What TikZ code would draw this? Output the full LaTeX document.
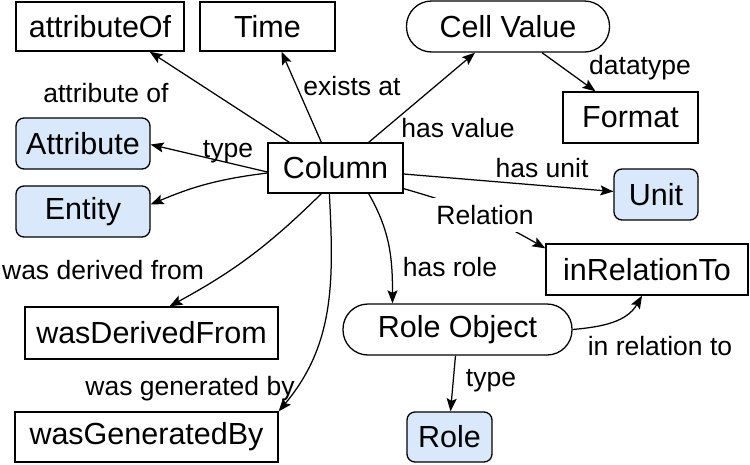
\documentclass[tikz,border=0pt]{standalone}
\usepackage{fontspec}
\setmainfont{Liberation Sans}
\usetikzlibrary{arrows.meta,calc}
\definecolor{lblue}{HTML}{DAE8FC}
\begin{document}
\begin{tikzpicture}[x=1pt,y=1pt,
  base/.style={draw=black,line width=1.3pt,inner sep=0pt,font=\fontsize{30.5}{36}\selectfont},
  box/.style={base},
  rbox/.style={base,rounded corners=8pt,fill=lblue},
  pill/.style={base,rounded corners=25pt},
  lbl/.style={inner sep=0pt,font=\fontsize{26.5}{32}\selectfont},
  arr/.style={-{Stealth[length=13pt,width=10pt,inset=2.5pt]},line width=1.25pt},
]
\useasboundingbox (0,0) rectangle (750,-464);
% nodes
\node[box,minimum width=168pt,minimum height=49pt] (ao) at (100,-26.5) {attributeOf};
\node[box,minimum width=135pt,minimum height=49pt] (time) at (267.5,-26.5) {Time};
\node[pill,minimum width=203pt,minimum height=51pt] (cv) at (508,-26.5) {Cell Value};
\node[box,minimum width=135pt,minimum height=51pt] (fmt) at (630.5,-117.5) {Format};
\node[rbox,minimum width=84pt,minimum height=51pt] (unit) at (656,-194.5) {Unit};
\node[rbox,minimum width=134pt,minimum height=51pt] (attr) at (83,-143.5) {Attribute};
\node[rbox,minimum width=134pt,minimum height=51pt] (ent) at (83,-211.5) {Entity};
\node[box,minimum width=135pt,minimum height=50pt] (col) at (335.5,-168) {Column};
\node[box,minimum width=202pt,minimum height=51pt] (irt) at (647,-269.5) {inRelationTo};
\node[pill,minimum width=229pt,minimum height=51pt] (ro) at (457.5,-329.5) {Role Object};
\node[rbox,minimum width=85pt,minimum height=50pt] (role) at (449.5,-437) {Role};
\node[box,minimum width=253pt,minimum height=52pt] (wdf) at (151.5,-333) {wasDerivedFrom};
\node[box,minimum width=263pt,minimum height=50pt] (wgb) at (146.5,-437) {wasGeneratedBy};
% edges
\draw[arr] ($(col.north west)+(22,0)$) -- ($(ao.south east)+(-35,0)$);
\draw[arr] ($(col.north west)+(54,0)$) -- ($(time.south)+(14,0)$);
\draw[arr] ($(col.north east)+(-35,0)$) -- ($(cv.south)+(-33,0)$);
\draw[arr] ($(cv.south)+(34,0)$) -- ($(fmt.north)+(-35,0)$);
\draw[arr] ($(col.west)+(0,-4)$) -- ($(attr.east)+(0,-1)$);
\draw[arr] ($(col.west)+(0,-5)$) to[bend right=8] ($(ent.east)+(0,7)$);
\draw[arr] ($(col.east)+(0,-6)$) -- ($(unit.west)+(0,3)$);
\draw[arr] ($(col.south east)+(0,5)$) to[bend left=7] ($(irt.north west)+(0,-5)$);
\draw[arr] ($(col.south west)+(54,0)$) to[bend left=8] ($(wdf.north)+(18,0)$);
\draw[arr] ($(col.south west)+(62,0)$) to[out=-87,in=50] (wgb.north east);
\draw[arr] ($(col.south east)+(-35,0)$) to[out=-60,in=90] ($(ro.north)+(-65,0)$);
\draw[arr] (ro.east) to[out=5,in=-120] ($(irt.south)+(-5,0)$);
\draw[arr] ($(ro.south)+(-2,0)$) -- ($(role.north)+(1,0)$);
% labels
\node[lbl] (l1) at (106,-93) {attribute of};
\node[lbl] (l2) at (352,-86) {exists at};
\node[lbl] (l3) at (458,-128) {has value};
\node[lbl] (l4) at (640,-68) {datatype};
\node[lbl] (l5) at (228,-152) {type};
\node[lbl] (l6) at (542,-168) {has unit};
\node[lbl,fill=white,inner xsep=10pt,inner ysep=7pt] (l7) at (485,-215) {Relation};
\node[lbl] (l8) at (103,-270) {was derived from};
\node[lbl] (l9) at (450,-267) {has role};
\node[lbl] (l10) at (660,-346) {in relation to};
\node[lbl] (l11) at (190,-389) {was generated by};
\node[lbl] (l12) at (491,-381) {type};
\end{tikzpicture}
\end{document}
